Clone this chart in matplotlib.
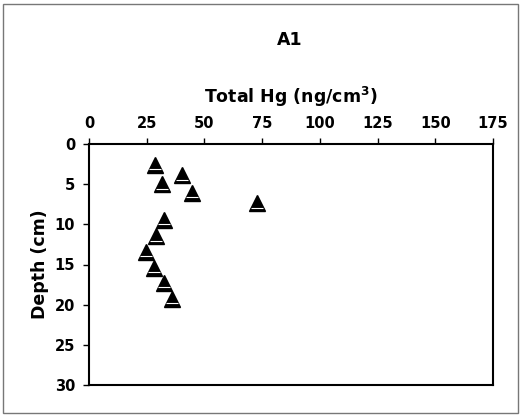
import matplotlib
matplotlib.use("Agg")
import matplotlib.pyplot as plt
from matplotlib.patches import Rectangle
from matplotlib.transforms import ScaledTranslation

# Sediment core A1: total mercury vs depth
total_hg = [28.7, 40.5, 31.5, 44.4, 72.7, 32.3, 29.2, 24.6, 28.2, 32.7, 35.9]
depth_cm = [2.6, 3.9, 5.0, 6.1, 7.4, 9.4, 11.5, 13.4, 15.4, 17.3, 19.3]
x_ticks = [0, 25, 50, 75, 100, 125, 150, 175]
y_ticks = [0, 5, 10, 15, 20, 25, 30]

plt.rcParams['font.family'] = ['DejaVu Sans']
plt.rcParams['font.weight'] = 'bold'

W, H = 521, 416
fig = plt.figure(figsize=(W / 100, H / 100), dpi=100)
ax = fig.add_axes([89 / W, 1 - 385 / H, (493 - 89) / W, (385 - 144) / H])

ax.plot(total_hg, depth_cm, linestyle='none', marker='^', markersize=11,
        color='black', markeredgecolor='black')
# thin white streak near the base of each triangle
streak = ax.transData + ScaledTranslation(0, -3.2 / 72, fig.dpi_scale_trans)
ax.plot(total_hg, depth_cm, linestyle='none', marker='_', markersize=8,
        markeredgewidth=0.8, color='white', transform=streak)

ax.set_xlim(0, 175)
ax.set_ylim(30, 0)
ax.set_xticks(x_ticks)
ax.set_yticks(y_ticks)
ax.xaxis.tick_top()
ax.xaxis.set_label_position('top')
ax.tick_params(axis='x', direction='out', length=4, width=1, pad=5,
               labelsize=10.5, top=True, bottom=False)
ax.tick_params(axis='y', direction='out', length=4, width=1, pad=6,
               labelsize=10.5)
for lbl in ax.get_xticklabels() + ax.get_yticklabels():
    lbl.set_fontweight('bold')
for sp in ax.spines.values():
    sp.set_linewidth(1.5)
    sp.set_color('black')

ax.set_xlabel('Total Hg (ng/cm$^\\mathbf{3}$)', fontsize=12.5,
              fontweight='bold', labelpad=10)
ax.set_ylabel('Depth (cm)', fontsize=12.5, fontweight='bold', labelpad=4)

fig.text(290 / W, 1 - 40 / H, 'A1', ha='center', va='center',
         fontsize=12.5, fontweight='bold')

# outer frame around the chart area
fig.patches.append(Rectangle((3 / W, 3 / H), 515 / W, 409 / H,
                             transform=fig.transFigure, fill=False,
                             edgecolor='#777777', linewidth=1))

fig.savefig('out.png', dpi=100)
